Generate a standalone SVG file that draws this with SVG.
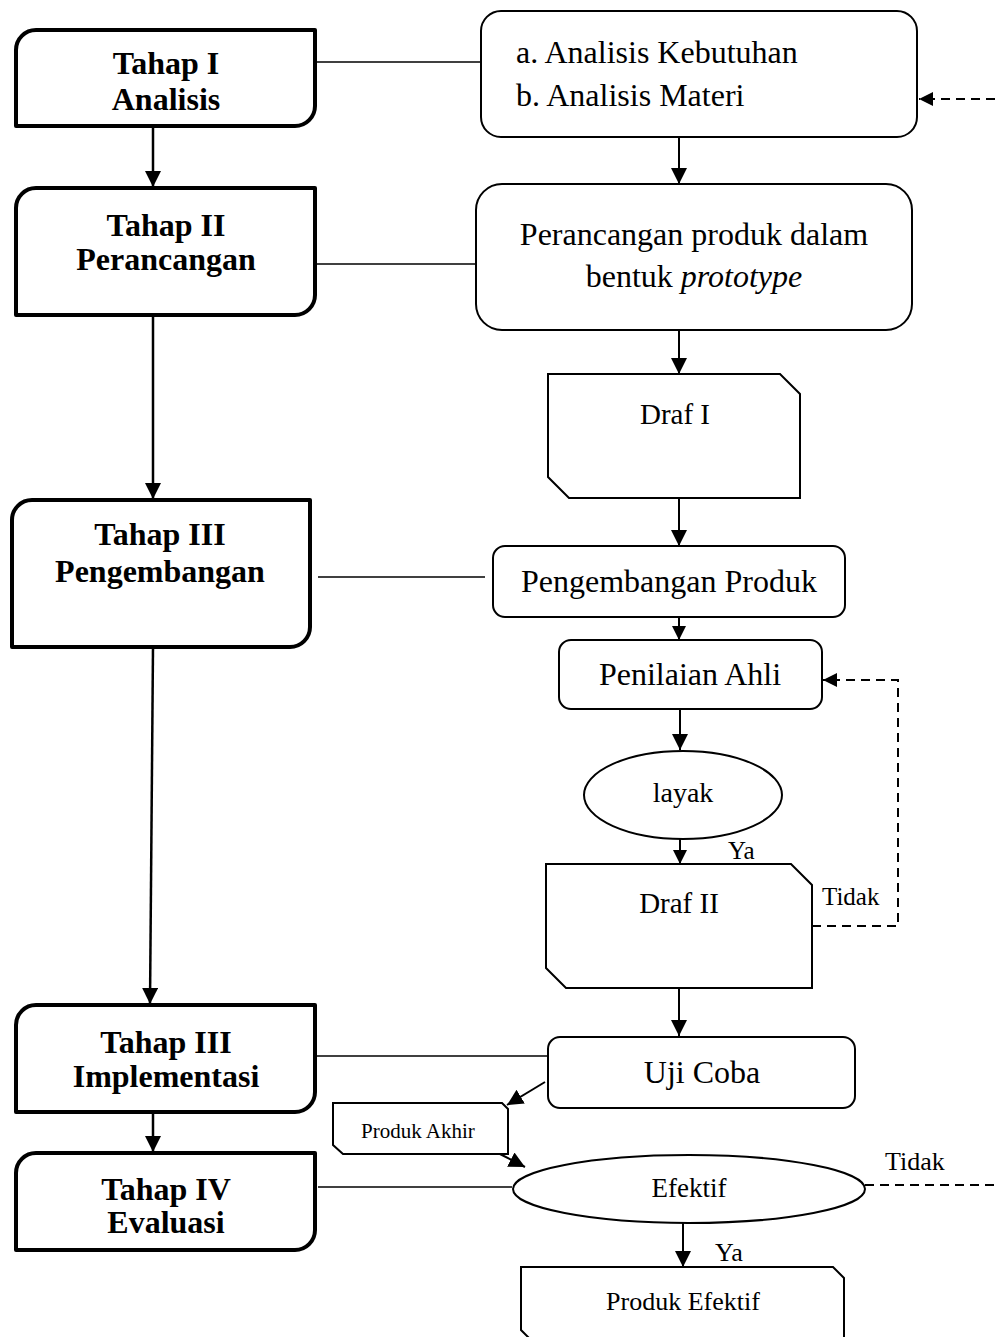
<svg xmlns="http://www.w3.org/2000/svg" width="995" height="1337" viewBox="0 0 995 1337">
<style>
.stage{fill:#fff;stroke:#000;stroke-width:4;stroke-linejoin:round}
.box{fill:#fff;stroke:#000;stroke-width:2}
.tb{font-family:"Liberation Serif","Times New Roman",serif;font-weight:bold;font-size:32px;text-anchor:middle;fill:#000}
.t{font-family:"Liberation Serif","Times New Roman",serif;font-size:32px;fill:#000}
.c{text-anchor:middle}
.ln{stroke:#000;stroke-width:2;fill:none}
.lnl{stroke:#000;stroke-width:2.5;fill:none}
.thin{stroke:#000;stroke-width:1.6;fill:none}
.dash{stroke:#000;stroke-width:2;fill:none;stroke-dasharray:9 6}
</style>
<defs>
<marker id="ah" markerUnits="userSpaceOnUse" markerWidth="18" markerHeight="18" refX="16" refY="8" orient="auto">
<path d="M0,0 L16,8 L0,16 Z" fill="#000"/>
</marker>
<marker id="ahs" markerUnits="userSpaceOnUse" markerWidth="16" markerHeight="16" refX="14" refY="7" orient="auto">
<path d="M0,0 L14,7 L0,14 Z" fill="#000"/>
</marker>
</defs>

<g id="connectors">
<line class="lnl" x1="153" y1="126" x2="153" y2="187" marker-end="url(#ah)"/>
<line class="lnl" x1="153" y1="315" x2="153" y2="499" marker-end="url(#ah)"/>
<line class="lnl" x1="153" y1="647" x2="150" y2="1004" marker-end="url(#ah)"/>
<line class="lnl" x1="153" y1="1112" x2="153" y2="1152" marker-end="url(#ah)"/>
<line class="thin" x1="315" y1="62" x2="481" y2="62"/>
<line class="thin" x1="315" y1="264" x2="476" y2="264"/>
<line class="thin" x1="318" y1="577" x2="485" y2="577"/>
<line class="thin" x1="315" y1="1056" x2="548" y2="1056"/>
<line class="thin" x1="318" y1="1187" x2="512" y2="1187"/>
<line class="ln" x1="679" y1="137" x2="679" y2="184" marker-end="url(#ah)"/>
<line class="ln" x1="679" y1="330" x2="679" y2="374" marker-end="url(#ah)"/>
<line class="ln" x1="679" y1="498" x2="679" y2="546" marker-end="url(#ah)"/>
<line class="ln" x1="679" y1="617" x2="679" y2="640" marker-end="url(#ahs)"/>
<line class="ln" x1="680" y1="709" x2="680" y2="750" marker-end="url(#ah)"/>
<line class="ln" x1="680" y1="839" x2="680" y2="864" marker-end="url(#ahs)"/>
<line class="ln" x1="679" y1="988" x2="679" y2="1036" marker-end="url(#ah)"/>
<line class="ln" x1="545" y1="1082" x2="507" y2="1105" marker-end="url(#ah)"/>
<line class="ln" x1="500" y1="1154" x2="525" y2="1167" marker-end="url(#ah)"/>
<line class="ln" x1="683" y1="1223" x2="683" y2="1267" marker-end="url(#ah)"/>
<line class="dash" x1="995" y1="99" x2="919" y2="99" marker-end="url(#ahs)"/>
<polyline class="dash" points="812,926 898,926 898,680 823,680" marker-end="url(#ahs)"/>
<line class="dash" x1="865" y1="1185" x2="995" y2="1185"/>
<text class="t" x="728" y="859" style="font-size:25px">Ya</text>
<text class="t" x="822" y="905" style="font-size:25px">Tidak</text>
<text class="t" x="885" y="1170" style="font-size:26px">Tidak</text>
<text class="t" x="715" y="1261" style="font-size:26px">Ya</text>
</g>

<g id="tahap1">
<path class="stage" d="M16,50 A20,20 0 0 1 36,30 H315 V106 A20,20 0 0 1 295,126 H16 Z"/>
<text class="tb" x="166" y="74">Tahap I</text>
<text class="tb" x="166" y="110">Analisis</text>
</g>
<g id="tahap2">
<path class="stage" d="M16,208 A20,20 0 0 1 36,188 H315 V295 A20,20 0 0 1 295,315 H16 Z"/>
<text class="tb" x="166" y="236">Tahap II</text>
<text class="tb" x="166" y="270">Perancangan</text>
</g>
<g id="tahap3">
<path class="stage" d="M12,520 A20,20 0 0 1 32,500 H310 V627 A20,20 0 0 1 290,647 H12 Z"/>
<text class="tb" x="160" y="545">Tahap III</text>
<text class="tb" x="160" y="582">Pengembangan</text>
</g>
<g id="tahap3b">
<path class="stage" d="M16,1025 A20,20 0 0 1 36,1005 H315 V1092 A20,20 0 0 1 295,1112 H16 Z"/>
<text class="tb" x="166" y="1053">Tahap III</text>
<text class="tb" x="166" y="1087">Implementasi</text>
</g>
<g id="tahap4">
<path class="stage" d="M16,1173 A20,20 0 0 1 36,1153 H315 V1230 A20,20 0 0 1 295,1250 H16 Z"/>
<text class="tb" x="166" y="1200">Tahap IV</text>
<text class="tb" x="166" y="1233">Evaluasi</text>
</g>

<g id="analisis">
<rect class="box" x="481" y="11" width="436" height="126" rx="20"/>
<text class="t" x="516" y="63">a. Analisis Kebutuhan</text>
<text class="t" x="516" y="106">b. Analisis Materi</text>
</g>
<g id="perancangan">
<rect class="box" x="476" y="184" width="436" height="146" rx="26"/>
<text class="t c" x="694" y="245">Perancangan produk dalam</text>
<text class="t c" x="694" y="287">bentuk <tspan font-style="italic">prototype</tspan></text>
</g>
<g id="draf1">
<path class="box" d="M548,374 H780 L800,394 V498 H569 L548,477 Z"/>
<text class="t c" x="675" y="424" style="font-size:29px">Draf I</text>
</g>
<g id="pengembangan">
<rect class="box" x="493" y="546" width="352" height="71" rx="12"/>
<text class="t c" x="669" y="592">Pengembangan Produk</text>
</g>
<g id="penilaian">
<rect class="box" x="559" y="640" width="263" height="69" rx="12"/>
<text class="t c" x="690" y="685">Penilaian Ahli</text>
</g>
<g id="layak">
<ellipse class="box" cx="683" cy="795" rx="99" ry="44"/>
<text class="t c" x="683" y="802" style="font-size:28px">layak</text>
</g>
<g id="draf2">
<path class="box" d="M546,864 H791 L812,885 V988 H566 L546,968 Z"/>
<text class="t c" x="679" y="913" style="font-size:29px">Draf II</text>
</g>
<g id="ujicoba">
<rect class="box" x="548" y="1037" width="307" height="71" rx="12"/>
<text class="t c" x="702" y="1083">Uji Coba</text>
</g>
<g id="produkakhir">
<path class="box" d="M333,1103 H502 L508,1109 V1154 H343 L333,1145 Z"/>
<text class="t c" x="418" y="1138" style="font-size:21px">Produk Akhir</text>
</g>
<g id="efektif">
<ellipse class="box" cx="689" cy="1189" rx="176" ry="34"/>
<text class="t c" x="689" y="1197" style="font-size:27px">Efektif</text>
</g>
<g id="produkefektif">
<path class="box" d="M521,1267 H833 L844,1278 V1345 H536 L521,1330 Z"/>
<text class="t c" x="683" y="1310" style="font-size:26px">Produk Efektif</text>
</g>
</svg>
